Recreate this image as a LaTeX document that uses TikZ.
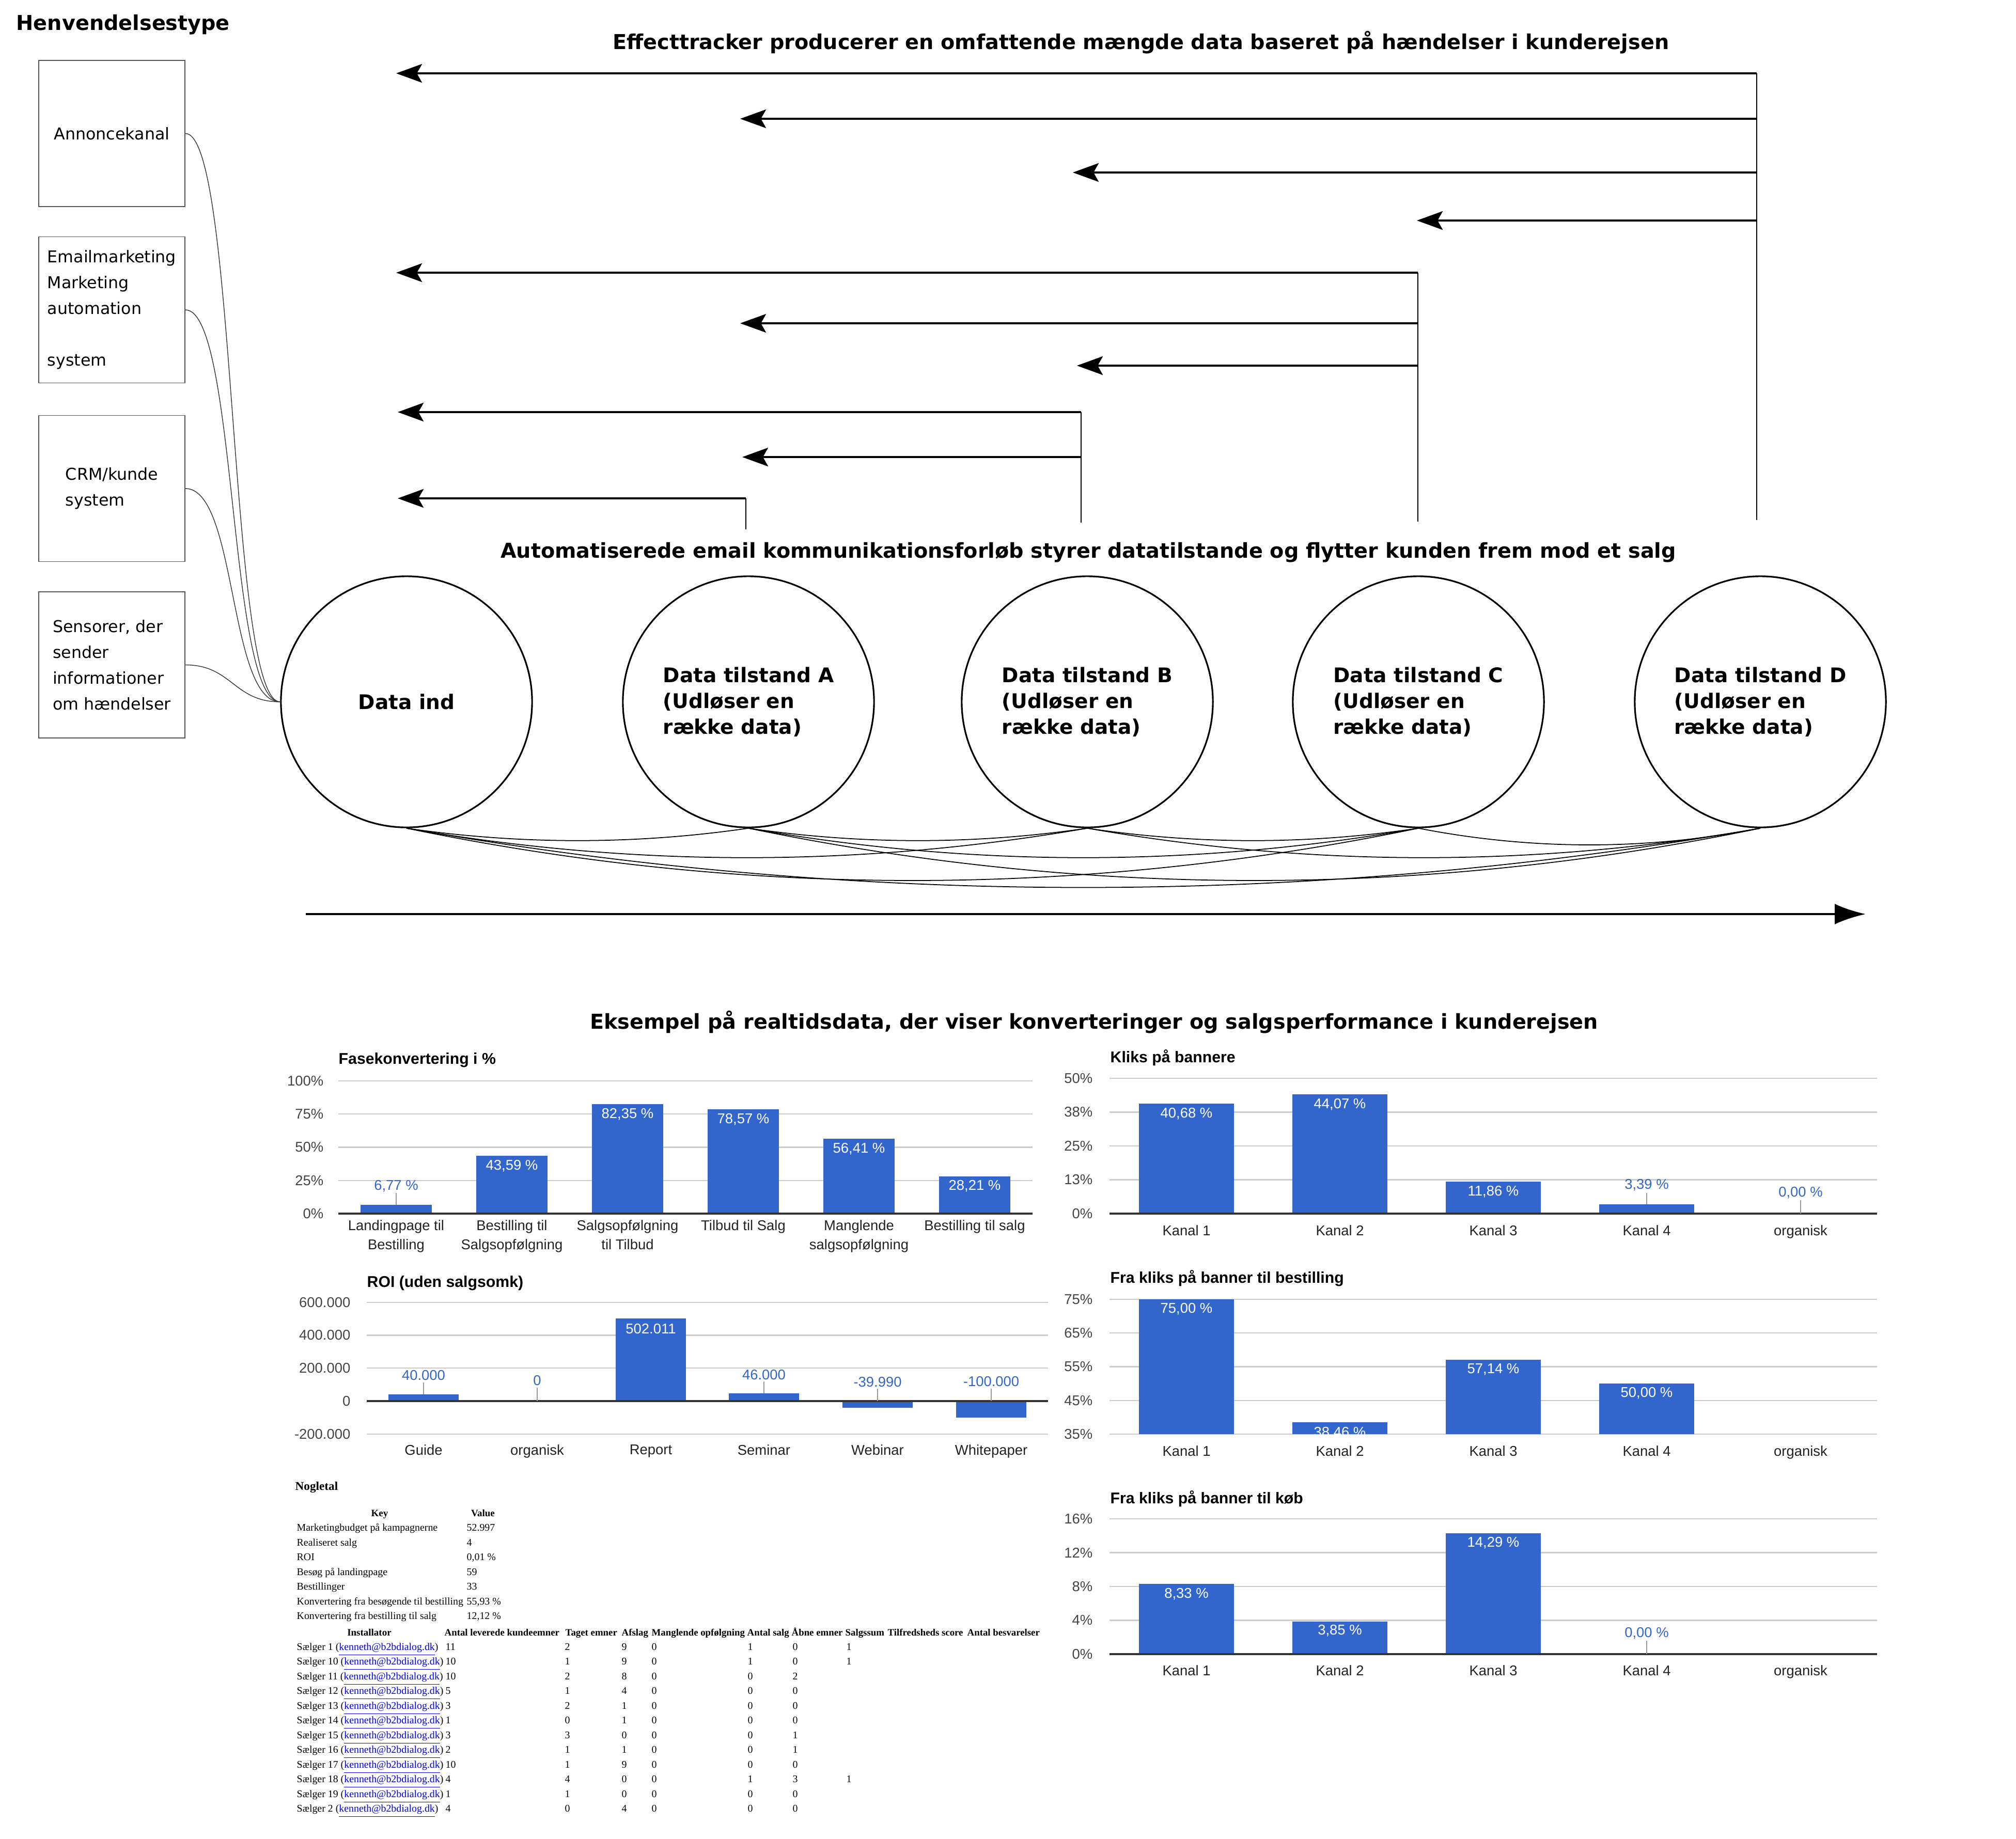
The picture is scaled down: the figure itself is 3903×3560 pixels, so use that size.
\documentclass[tikz,border=0pt]{standalone}
\usepackage{fontspec}
\setmainfont{DejaVu Sans}
\newfontfamily\chartfont{Liberation Sans}
\newfontfamily\tabfont{Liberation Serif}
\usetikzlibrary{arrows.meta}
\definecolor{barblue}{HTML}{3366CC}
\definecolor{gridgray}{HTML}{CCCCCC}
\definecolor{axisdark}{HTML}{333333}
\definecolor{ylabgray}{HTML}{444444}
\definecolor{xlabgray}{HTML}{222222}
\definecolor{leadergray}{HTML}{999999}
\definecolor{linkblue}{HTML}{0000EE}
\definecolor{boxgray}{HTML}{555555}
\begin{document}
\begin{tikzpicture}[x=0.01cm,y=-0.01cm,
  every node/.style={inner sep=0pt},
  bigtitle/.style={font=\fontsize{11.3}{14.2}\selectfont\bfseries},
  srcbox/.style={draw=boxgray, line width=0.5pt, minimum width=2.83cm, minimum height=2.83cm, align=left, font=\fontsize{9}{14.2}\selectfont},
  statecircle/.style={circle, draw, line width=0.9pt, minimum size=4.86cm, align=left, font=\fontsize{11.1}{14.2}\selectfont\bfseries},
  feed/.style={draw=black!80, line width=0.4pt},
  vline/.style={line width=0.7pt},
  harrow/.style={line width=1.1pt, -{Stealth[length=0.5cm, width=0.36cm, inset=0.1cm]}},
  link/.style={line width=0.5pt},
  timeline/.style={line width=1.2pt, -{Latex[length=0.6cm, width=0.4cm]}},
  ctitle/.style={anchor=west, font=\chartfont\fontsize{8.6}{10}\selectfont\bfseries},
  ylab/.style={anchor=east, text=ylabgray, font=\chartfont\fontsize{7.8}{9}\selectfont},
  xlab/.style={anchor=north, align=center, text=xlabgray, font=\chartfont\fontsize{7.8}{10.5}\selectfont},
  vin/.style={text=white, font=\chartfont\fontsize{7.8}{9}\selectfont},
  vout/.style={text=barblue, font=\chartfont\fontsize{7.8}{9}\selectfont},
  gridl/.style={draw=gridgray, line width=0.6pt},
  zerol/.style={draw=axisdark, line width=0.9pt},
  leader/.style={draw=leadergray, line width=0.4pt},
  bar/.style={fill=barblue},
  tabcell/.style={anchor=base west, font=\tabfont\fontsize{5.65}{7}\selectfont},
  tabhdw/.style={anchor=base west, font=\tabfont\fontsize{5.35}{7}\selectfont\bfseries},
  tabhead/.style={anchor=base, font=\tabfont\fontsize{5.4}{7}\selectfont\bfseries}
]
\useasboundingbox (0,0) rectangle (3903,3560);

% ---------- titles ----------
\node[bigtitle, anchor=west] (henv) at (31,48) {Henvendelsestype};
\node[bigtitle] (efftitle) at (2209,82) {Effecttracker producerer en omfattende mængde data baseret på hændelser i kunderejsen};
\node[bigtitle] (autotitle) at (2107,1070) {Automatiserede email kommunikationsforløb styrer datatilstande og flytter kunden frem mod et salg};
\node[bigtitle] (ekstitle) at (2118,1979) {Eksempel på realtidsdata, der viser konverteringer og salgsperformance i kunderejsen};

% ---------- source boxes ----------
\node[srcbox] (b1) at (216.5,258.5) {Annoncekanal};
\node[srcbox] (b2) at (216.5,600) {Emailmarketing\\Marketing\\automation\\\mbox{}\\system};
\node[srcbox] (b3) at (216.5,946) {CRM/kunde\\system};
\node[srcbox] (b4) at (216.5,1287.5) {Sensorer, der\\sender\\informationer\\om hændelser};

% ---------- state circles ----------
\node[statecircle] (c1) at (787,1359) {Data ind};
\node[statecircle] (c2) at (1449,1359) {Data tilstand A\\(Udløser en\\række data)};
\node[statecircle] (c3) at (2105,1359) {Data tilstand B\\(Udløser en\\række data)};
\node[statecircle] (c4) at (2746,1359) {Data tilstand C\\(Udløser en\\række data)};
\node[statecircle] (c5) at (3408,1359) {Data tilstand D\\(Udløser en\\række data)};

% feeds from boxes
\draw[feed] (b1.east) .. controls +(100,0) and +(-100,0) .. (c1.west);
\draw[feed] (b2.east) .. controls +(100,0) and +(-100,0) .. (c1.west);
\draw[feed] (b3.east) .. controls +(100,0) and +(-100,0) .. (c1.west);
\draw[feed] (b4.east) .. controls +(90,0) and +(-90,0) .. (c1.west);

% ---------- upper feedback arrows ----------
\coordinate (v5t) at (3401,142); \coordinate (v5b) at (3401,1007);
\coordinate (v4t) at (2745,528); \coordinate (v4b) at (2745,1010);
\coordinate (v3t) at (2093,798); \coordinate (v3b) at (2093,1012);
\coordinate (v2t) at (1444,965); \coordinate (v2b) at (1444,1025);
\draw[vline] (v5t) -- (v5b);
\draw[vline] (v4t) -- (v4b);
\draw[vline] (v3t) -- (v3b);
\draw[vline] (v2t) -- (v2b);
\foreach \nm/\sx/\yy/\ex in {a/3401/142/767, b/3401/230/1433, c/3401/334/2077, d/3401/427/2743,
   e/2745/528/767, f/2745/626/1433, g/2745/708/2085,
   h/2093/798/770, i/2093/885/1437,
   j/1444/965/770} {
  \coordinate (hs\nm) at (\sx,\yy);
  \coordinate (he\nm) at (\ex,\yy);
  \draw[harrow] (hs\nm) -- (he\nm);
}

% ---------- lower links between circles ----------
\draw[link] (c1.south) .. controls +(220,32) and +(-220,32) .. (c2.south);
\draw[link] (c2.south) .. controls +(219,32) and +(-219,32) .. (c3.south);
\draw[link] (c3.south) .. controls +(214,32) and +(-214,32) .. (c4.south);
\draw[link] (c4.south) .. controls +(220,43) and +(-220,43) .. (c5.south);
\draw[link] (c1.south) .. controls +(439,76) and +(-439,76) .. (c3.south);
\draw[link] (c2.south) .. controls +(432,76) and +(-432,76) .. (c4.south);
\draw[link] (c3.south) .. controls +(434,76) and +(-434,76) .. (c5.south);
\draw[link] (c1.south) .. controls +(653,135) and +(-653,135) .. (c4.south);
\draw[link] (c2.south) .. controls +(653,135) and +(-653,135) .. (c5.south);
\draw[link] (c1.south) .. controls +(874,153) and +(-874,153) .. (c5.south);

% time arrow
\coordinate (tl0) at (592,1770);
\coordinate (tl1) at (3612,1770);
\draw[timeline] (tl0) -- (tl1);

% ================= CHART 1: Fasekonvertering =================
\node[ctitle] (ch1t) at (655,2053) {Fasekonvertering i \%};
\foreach \v/\yy in {0/2350,25/2285.75,50/2221.5,75/2157.25,100/2093} {
  \draw[gridl] (655,\yy) -- (1999,\yy);
  \node[ylab] (ch1y\v) at (627,\yy) {\v\%};
}
\foreach \cx/\tp in {767/2332.6, 991/2238, 1215/2138.4, 1439/2148, 1663/2205, 1887/2277.5} {
  \fill[bar] (\cx-69,2350) rectangle (\cx+69,\tp);
}
\draw[zerol] (655,2350) -- (1999,2350);
\draw[leader] (767,2310) -- (767,2332.6);
\node[vout] (ch1v1) at (767,2297) {6,77 \%};
\node[vin] (ch1v2) at (991,2258) {43,59 \%};
\node[vin] (ch1v3) at (1215,2158) {82,35 \%};
\node[vin] (ch1v4) at (1439,2168) {78,57 \%};
\node[vin] (ch1v5) at (1663,2225) {56,41 \%};
\node[vin] (ch1v6) at (1887,2297) {28,21 \%};
\node[xlab] (ch1x1) at (767,2362) {Landingpage til\\Bestilling};
\node[xlab] (ch1x2) at (991,2362) {Bestilling til\\Salgsopfølgning};
\node[xlab] (ch1x3) at (1215,2362) {Salgsopfølgning\\til Tilbud};
\node[xlab] (ch1x4) at (1439,2362) {Tilbud til Salg};
\node[xlab] (ch1x5) at (1663,2362) {Manglende\\salgsopfølgning};
\node[xlab] (ch1x6) at (1887,2362) {Bestilling til salg};

% ================= CHART 2: ROI =================
\node[ctitle] (ch2t) at (710,2485) {ROI (uden salgsomk)};
\foreach \k/\yy/\lab in {a/2521.75/600.000, b/2585.5/400.000, c/2649.25/200.000, d/2713/0, e/2776.75/-200.000} {
  \draw[gridl] (710,\yy) -- (2029,\yy);
  \node[ylab] (ch2y\k) at (679,\yy) {\lab};
}
\fill[bar] (752,2713) rectangle (888,2700);
\fill[bar] (1192,2713) rectangle (1328,2553);
\fill[bar] (1411,2713) rectangle (1547,2698.3);
\fill[bar] (1631,2713) rectangle (1767,2725.7);
\fill[bar] (1851,2713) rectangle (1987,2744.9);
\draw[zerol] (710,2713) -- (2029,2713);
\draw[leader] (820,2677) -- (820,2700);
\draw[leader] (1040,2687) -- (1040,2713);
\draw[leader] (1479,2675) -- (1479,2698.3);
\draw[leader] (1699,2689) -- (1699,2713);
\draw[leader] (1919,2689) -- (1919,2713);
\node[vout] (ch2v1) at (820,2663) {40.000};
\node[vout] (ch2v2) at (1040,2673) {0};
\node[vin] (ch2v3) at (1260,2573) {502.011};
\node[vout] (ch2v4) at (1479,2662) {46.000};
\node[vout] (ch2v5) at (1699,2676) {-39.990};
\node[vout] (ch2v6) at (1919,2675) {-100.000};
\foreach \cx/\lab [count=\q] in {820/Guide, 1040/organisk, 1260/Report, 1479/Seminar, 1699/Webinar, 1919/Whitepaper} {
  \node[xlab] (ch2x\q) at (\cx,2797) {\lab};
}

% ================= CHART 3: Kliks paa bannere =================
\node[ctitle] (ch3t) at (2149,2048) {Kliks på bannere};
\foreach \v/\yy in {0/2350,13/2284.5,25/2219,38/2153.5,50/2088} {
  \draw[gridl] (2148,\yy) -- (3634,\yy);
  \node[ylab] (ch3y\v) at (2116,\yy) {\v\%};
}
\foreach \cx/\tp in {2297/2136.8, 2594/2119, 2891/2287.9, 3188/2332.2} {
  \fill[bar] (\cx-92,2350) rectangle (\cx+92,\tp);
}
\draw[zerol] (2148,2350) -- (3634,2350);
\draw[leader] (3188,2310) -- (3188,2332.2);
\draw[leader] (3486,2324) -- (3486,2350);
\node[vin] (ch3v1) at (2297,2157) {40,68 \%};
\node[vin] (ch3v2) at (2594,2139) {44,07 \%};
\node[vin] (ch3v3) at (2891,2308) {11,86 \%};
\node[vout] (ch3v4) at (3188,2295) {3,39 \%};
\node[vout] (ch3v5) at (3486,2310) {0,00 \%};
\foreach \cx/\lab [count=\q] in {2297/Kanal 1, 2594/Kanal 2, 2891/Kanal 3, 3188/Kanal 4, 3486/organisk} {
  \node[xlab] (ch3x\q) at (\cx,2372) {\lab};
}

% ================= CHART 4: til bestilling =================
\node[ctitle] (ch4t) at (2149,2475) {Fra kliks på banner til bestilling};
\foreach \v/\yy in {35/2777,45/2711.75,55/2646.5,65/2581.25,75/2516} {
  \draw[gridl] (2148,\yy) -- (3634,\yy);
  \node[ylab] (ch4y\v) at (2116,\yy) {\v\%};
}
\foreach \cx/\tp in {2297/2516, 2594/2754.4, 2891/2632.5, 3188/2679.1} {
  \fill[bar] (\cx-92,2777) rectangle (\cx+92,\tp);
}
\node[vin] (ch4v1) at (2297,2535) {75,00 \%};
\begin{scope}
  \clip (2502,2754.4) rectangle (2686,2777);
  \node[vin] (ch4v2) at (2594,2775) {38,46 \%};
\end{scope}
\node[vin] (ch4v3) at (2891,2652) {57,14 \%};
\node[vin] (ch4v4) at (3188,2698) {50,00 \%};
\foreach \cx/\lab [count=\q] in {2297/Kanal 1, 2594/Kanal 2, 2891/Kanal 3, 3188/Kanal 4, 3486/organisk} {
  \node[xlab] (ch4x\q) at (\cx,2799) {\lab};
}

% ================= CHART 5: til koeb =================
\node[ctitle] (ch5t) at (2149,2902) {Fra kliks på banner til køb};
\foreach \v/\yy in {0/3203,4/3137.5,8/3072,12/3006.5,16/2941} {
  \draw[gridl] (2148,\yy) -- (3634,\yy);
  \node[ylab] (ch5y\v) at (2116,\yy) {\v\%};
}
\foreach \cx/\tp in {2297/3066.6, 2594/3140, 2891/2969} {
  \fill[bar] (\cx-92,3203) rectangle (\cx+92,\tp);
}
\draw[zerol] (2148,3203) -- (3634,3203);
\draw[leader] (3188,3177) -- (3188,3203);
\node[vin] (ch5v1) at (2297,3087) {8,33 \%};
\node[vin] (ch5v2) at (2594,3158) {3,85 \%};
\node[vin] (ch5v3) at (2891,2988) {14,29 \%};
\node[vout] (ch5v4) at (3188,3163) {0,00 \%};
\foreach \cx/\lab [count=\q] in {2297/Kanal 1, 2594/Kanal 2, 2891/Kanal 3, 3188/Kanal 4, 3486/organisk} {
  \node[xlab] (ch5x\q) at (\cx,3224) {\lab};
}

% ================= Noegletal table =================
\node[tabcell, font=\tabfont\fontsize{6.6}{8}\selectfont\bfseries] (ntitle) at (571,2885) {Nogletal};
\node[tabhead] (kh) at (735,2936) {Key};
\node[tabhead] (vh) at (935,2936) {Value};
\foreach \ky/\vl [count=\k from 0] in {Marketingbudget på kampagnerne/52.997, Realiseret salg/4, ROI/{0,01 \%}, Besøg på landingpage/59, Bestillinger/33, Konvertering fra besøgende til bestilling/{55,93 \%}, Konvertering fra bestilling til salg/{12,12 \%}} {
  \pgfmathsetmacro\ry{2964.5+28.5*\k}
  \node[tabcell] (tk\k) at (574,\ry) {\ky};
  \node[tabcell] (tv\k) at (903,\ry) {\vl};
}
\node[tabhead] (h0) at (715,3167) {Installator};
\foreach \hx/\hdtext [count=\q] in {860/Antal leverede kundeemner, 1094/Taget emner, 1203/Afslag, 1261/Manglende opfølgning, 1446/Antal salg, 1532/Åbne emner, 1636/Salgssum, 1718/Tilfredsheds score, 1872/Antal besvarelser} {
  \node[tabhdw] (h\q) at (\hx,3167) {\hdtext};
}
\foreach \nm/\ca/\cb/\cc/\cd/\ce/\cf [count=\k from 0] in {1/11/2/9/0/1/0, 10/10/1/9/0/1/0, 11/10/2/8/0/0/2, 12/5/1/4/0/0/0, 13/3/2/1/0/0/0, 14/1/0/1/0/0/0, 15/3/3/0/0/0/1, 16/2/1/1/0/0/1, 17/10/1/9/0/0/0, 18/4/4/0/0/1/3, 19/1/1/0/0/0/0, 2/4/0/4/0/0/0} {
  \pgfmathsetmacro\ry{3195+28.5*\k}
  \node[tabcell] (tn\k) at (574,\ry) {Sælger \nm\ (\textcolor{linkblue}{\underline{kenneth@b2bdialog.dk}})};
  \node[tabcell] (ta\k) at (862,\ry) {\ca};
  \node[tabcell] (tb\k) at (1093,\ry) {\cb};
  \node[tabcell] (tc\k) at (1203,\ry) {\cc};
  \node[tabcell] (td\k) at (1261,\ry) {\cd};
  \node[tabcell] (te\k) at (1447,\ry) {\ce};
  \node[tabcell] (tf\k) at (1534,\ry) {\cf};
}
\node[tabcell] (ts0) at (1638,3195) {1};
\node[tabcell] (ts1) at (1638,3223.5) {1};
\node[tabcell] (ts9) at (1638,3451.5) {1};

\end{tikzpicture}
\end{document}
